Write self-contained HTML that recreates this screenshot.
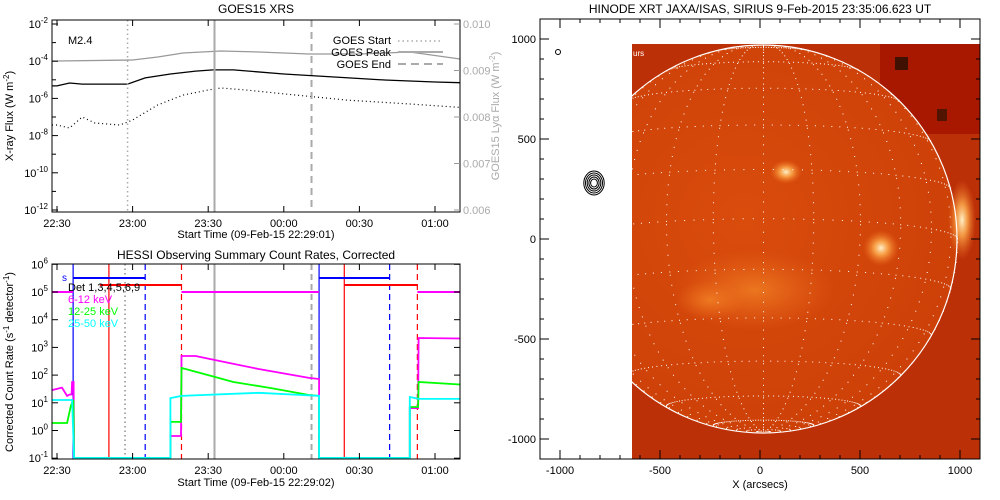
<!DOCTYPE html>
<html><head><meta charset="utf-8"><style>
html,body{margin:0;padding:0;background:#fff;width:1000px;height:500px;overflow:hidden;}
svg{display:block;font-family:"Liberation Sans",sans-serif;}
</style></head><body>
<svg id="chart" width="1000" height="500" viewBox="0 0 1000 500" xmlns="http://www.w3.org/2000/svg">
<defs>
<clipPath id="cpTop"><rect x="52" y="20" width="408" height="192"/></clipPath>
<clipPath id="cpBot"><rect x="52" y="264" width="408" height="195"/></clipPath>
<clipPath id="cpImg"><rect x="632" y="44" width="348" height="415"/></clipPath>
<radialGradient id="gDisk" cx="0.45" cy="0.45" r="0.6"><stop offset="0" stop-color="#d94c0c"/><stop offset="1" stop-color="#cc4008"/></radialGradient>
<radialGradient id="gBlob"><stop offset="0" stop-color="#fff0c8"/><stop offset="0.4" stop-color="#ffb050" stop-opacity="0.8"/><stop offset="1" stop-color="#f07020" stop-opacity="0"/></radialGradient>
<radialGradient id="gGlow"><stop offset="0" stop-color="#f58a28" stop-opacity="0.7"/><stop offset="1" stop-color="#f07020" stop-opacity="0"/></radialGradient>
</defs>

<g>
<text x="256" y="13" font-size="12" text-anchor="middle">GOES15 XRS</text>
<g id="topG" clip-path="url(#cpTop)"></g>
<rect x="52" y="20" width="408" height="192" fill="none" stroke="#000"/>
<g id="topAx"></g>
<text x="256" y="238" font-size="11" text-anchor="middle">Start Time (09-Feb-15 22:29:01)</text>
<text transform="translate(13,116) rotate(-90)" font-size="11" text-anchor="middle">X-ray Flux (W m<tspan dy="-4" font-size="8">-2</tspan><tspan dy="4">)</tspan></text>
<text transform="translate(499,116) rotate(-90)" font-size="11" fill="#aaa" text-anchor="middle">GOES15 Lyα Flux (W m<tspan dy="-4" font-size="8">-2</tspan><tspan dy="4">)</tspan></text>
<text x="68" y="44" font-size="11">M2.4</text>
<g>
<text x="391" y="44" font-size="11" text-anchor="end">GOES Start</text>
<line x1="398" y1="41" x2="443" y2="41" stroke="#aaa" stroke-width="1.5" stroke-dasharray="1.5,3"/>
<text x="391" y="56" font-size="11" text-anchor="end">GOES Peak</text>
<line x1="398" y1="52" x2="443" y2="52" stroke="#aaa" stroke-width="2"/>
<text x="391" y="68" font-size="11" text-anchor="end">GOES End</text>
<line x1="398" y1="64" x2="443" y2="64" stroke="#aaa" stroke-width="2" stroke-dasharray="8,5"/>
</g>
</g>

<g>
<text x="256" y="259" font-size="12" text-anchor="middle">HESSI Observing Summary Count Rates, Corrected</text>
<g id="botG" clip-path="url(#cpBot)"></g>
<rect x="52" y="264" width="408" height="195" fill="none" stroke="#000"/>
<g id="botAx"></g>
<text x="256" y="486" font-size="11" text-anchor="middle">Start Time (09-Feb-15 22:29:02)</text>
<text transform="translate(13,362) rotate(-90)" font-size="11" text-anchor="middle">Corrected Count Rate (s<tspan dy="-4" font-size="8">-1</tspan><tspan dy="4"> detector</tspan><tspan dy="-4" font-size="8">-1</tspan><tspan dy="4">)</tspan></text>
<text x="62" y="281" font-size="10" fill="#0000ff">s</text>
<text x="68" y="291" font-size="11">Det 1,3,4,5,6,9</text>
<text x="68" y="303" font-size="11" fill="#ff00ff">6-12 keV</text>
<text x="68" y="315" font-size="11" fill="#00ff00">12-25 keV</text>
<text x="68" y="327" font-size="11" fill="#00ffff">25-50 keV</text>
</g>

<g>
<text x="760" y="13" font-size="12" text-anchor="middle">HINODE XRT JAXA/ISAS, SIRIUS  9-Feb-2015 23:35:06.623 UT</text>
<g clip-path="url(#cpImg)">
<rect x="632" y="44" width="348" height="415" fill="#bc3008"/>
<rect x="880" y="44" width="100" height="90" fill="#a81800"/>
<circle cx="763" cy="239" r="194" fill="url(#gDisk)"/>
<ellipse cx="755" cy="290" rx="80" ry="40" fill="url(#gGlow)"/>
<ellipse cx="710" cy="300" rx="35" ry="20" fill="url(#gGlow)"/>
<ellipse cx="786" cy="172" rx="16" ry="12" fill="url(#gBlob)"/>
<ellipse cx="881" cy="248" rx="18" ry="18" fill="url(#gBlob)"/>
<ellipse cx="962" cy="220" rx="14" ry="40" fill="url(#gBlob)"/>
<rect x="895" y="57" width="13" height="13" fill="#401000"/>
<rect x="937" y="109" width="10" height="12" fill="#501400"/>
<g id="grid"></g>
<circle cx="763" cy="239" r="194" fill="none" stroke="#fff" stroke-width="1.2"/>
<text x="633" y="56" font-size="8" fill="#fff">urs</text>
</g>
<rect x="540" y="19" width="440" height="440" fill="none" stroke="#000"/>
<g id="rAx"></g>
<text x="760" y="488" font-size="11" text-anchor="middle">X (arcsecs)</text>
<circle cx="558" cy="52" r="2.5" fill="none" stroke="#000"/>
<g id="contours"></g>
</g>
</svg>
<script>
// ---------- DATA ----------
const goesTimeTicks = ["22:30","23:00","23:30","00:00","00:30","01:00"];
const goesTickMin = [0,30,60,90,120,150];
const fluxTickLabels = ["-2","-4","-6","-8","-10","-12"];
const fluxTickExp = [-2,-4,-6,-8,-10,-12];
const lyaTickLabels = ["0.010","0.009","0.008","0.007","0.006"];
const lyaTickVals = [0.010,0.009,0.008,0.007,0.006];
const longT = [-2,0,5,10,28,35,45,55,62,70,90,110,130,150,164];
const longLog = [-5.33,-5.33,-5.17,-5.23,-5.23,-4.90,-4.69,-4.53,-4.47,-4.47,-4.69,-4.85,-5.01,-5.12,-5.17];
const shortT = [-2,0,5,10,15,25,30,40,50,60,65,75,95,115,140,164];
const shortLog = [-7.43,-7.43,-7.59,-7.0,-7.32,-7.43,-7.16,-6.35,-5.82,-5.55,-5.44,-5.55,-5.82,-6.09,-6.30,-6.52];
const lyaT = [-2,0,30,40,50,65,80,100,120,140,160,164];
const lyaVal = [0.009204,0.009204,0.009226,0.00929,0.009376,0.00942,0.009398,0.009355,0.009355,0.009398,0.009247,0.009226];
const goesStart = 28, goesPeak = 62.5, goesEnd = 101;

const hessiExp = [6,5,4,3,2,1,0,-1];
const magT = [-2,2,4,5,5.8,6,6.6,6.8,45,45,49.2,49.4,55,65,80,100,104,104,140,140,143.3,143.5,160,164];
const magLog = [1.46,1.55,1.25,1.3,1.3,1.75,1.75,-1.1,-1.1,-0.2,-0.2,2.69,2.69,2.5,2.22,1.9,1.86,-1.1,-1.1,0.81,0.81,3.34,3.32,3.3];
const grnT = [-2,4,5.5,6.5,6.8,45,45,49.2,49.4,60,70,85,100,104,104,140,140,143.3,143.5,164];
const grnLog = [0.27,0.27,0.9,1.1,-1.1,-1.1,0.31,0.31,2.26,2.0,1.75,1.53,1.28,1.25,-1.1,-1.1,0.85,0.85,1.75,1.64];
const cyaT = [-2,6,6.8,45,45,49.4,80,104,104,140,140,143.5,164];
const cyaLog = [1.1,1.1,-1.1,-1.1,1.17,1.25,1.36,1.25,-1.1,-1.1,1.21,1.14,1.14];
const vLines = [
  {t:6.4,c:"#0000ff",d:""},{t:20.6,c:"#ff0000",d:""},{t:27,c:"#aaa",d:"1.5,3"},
  {t:35,c:"#0000ff",d:"6,4"},{t:49.4,c:"#ff0000",d:"6,4"},{t:62.5,c:"#aaa",d:""},
  {t:101,c:"#aaa",d:"6,4"},{t:104,c:"#0000ff",d:""},{t:114,c:"#ff0000",d:""},
  {t:132,c:"#0000ff",d:"6,4"},{t:143,c:"#ff0000",d:"6,4"}];
const blueBarStart=[6.4,104], blueBarEnd=[35,132];
const redBarStart=[17,114], redBarEnd=[49.4,143];
const magBarStart=[-2,49.4,143], magBarEnd=[6.4,104,170];

const arcTicks = [-1000,-500,0,500,1000];
const contourRx = [4,6,8,10,12];

// ---------- SCALES ----------
const NS="http://www.w3.org/2000/svg";
const xs = t => 57 + 2.52*t;
const yTop = l => 24 + (-2 - l)*18.6;
const yLya = v => 24 + (0.010 - v)*46500;
const yBot = l => 292 + (5 - l)*27.7;
const ax = a => 760 + a*0.2;
const ay = a => 239 - a*0.2;
function el(parent,tag,attrs){const e=document.createElementNS(NS,tag);for(const k in attrs)e.setAttribute(k,attrs[k]);parent.appendChild(e);return e;}
function poly(T,V,fx,fy){let p=[];for(let i=0;i<T.length;i++){p.push(fx(T[i]).toFixed(1)+","+fy(V[i]).toFixed(1));}return p.join(" ");}

// ---------- TOP ----------
const topG=document.getElementById('topG'), topAx=document.getElementById('topAx');
let l;
l=el(topG,'polyline',{points:poly(lyaT,lyaVal,xs,yLya),fill:"none",stroke:"#999",'stroke-width':1.3});


l=el(topG,'polyline',{points:poly(longT,longLog,xs,yTop),fill:"none",stroke:"#000",'stroke-width':1.3});


l=el(topG,'polyline',{points:poly(shortT,shortLog,xs,yTop),fill:"none",stroke:"#000",'stroke-width':1.2,'stroke-dasharray':"1,3"});


[[goesStart,"1.5,3",1.5,'goes-start-line'],[goesPeak,"",2,'goes-peak-line'],[goesEnd,"7,5",2,'goes-end-line']].forEach(v=>{
  const e=el(topG,'line',{x1:xs(v[0]),x2:xs(v[0]),y1:20,y2:212,stroke:"#aaa",'stroke-width':v[2],'stroke-dasharray':v[1]});
  
  
});
goesTickMin.forEach((m,i)=>{
  el(topAx,'line',{x1:xs(m),x2:xs(m),y1:212,y2:206,stroke:"#000"});
  el(topAx,'line',{x1:xs(m),x2:xs(m),y1:20,y2:26,stroke:"#000"});
  const t=el(topAx,'text',{x:xs(m),y:227,'font-size':11,'text-anchor':'middle'});t.textContent=goesTimeTicks[i];
  
  
});
for(let e=-2;e>=-12;e--){el(topAx,'line',{x1:52,x2:e%2?56:58,y1:yTop(e),y2:yTop(e),stroke:"#000"});}
fluxTickExp.forEach((e,i)=>{
  const t=el(topAx,'text',{x:48,y:yTop(e)+4,'font-size':11,'text-anchor':'end'});
  t.innerHTML='10<tspan dy="-5" font-size="8">'+fluxTickLabels[i]+'</tspan>';
  
  
});
lyaTickVals.forEach((v,i)=>{
  el(topAx,'line',{x1:460,x2:454,y1:yLya(v),y2:yLya(v),stroke:"#999"});
  const t=el(topAx,'text',{x:463,y:yLya(v)+4,'font-size':11,fill:'#aaa'});t.textContent=lyaTickLabels[i];
  
  
});

// ---------- BOTTOM ----------
const botG=document.getElementById('botG'), botAx=document.getElementById('botAx');
vLines.forEach(v=>{
  const e=el(botG,'line',{x1:xs(v.t),x2:xs(v.t),y1:264,y2:459,stroke:v.c,'stroke-width':v.c=="#aaa"?2:1.2,'stroke-dasharray':v.d});
  
  
});
function bars(S,E,yv,c,name){S.forEach((s,i)=>{
  const e=el(botG,'line',{x1:xs(s),x2:xs(E[i]),y1:yv,y2:yv,stroke:c,'stroke-width':2});
  
  
});}
bars(magBarStart,magBarEnd,292,"#ff00ff",'attenuator-state-bar');
bars(redBarStart,redBarEnd,285,"#ff0000",'saa-state-bar');
bars(blueBarStart,blueBarEnd,278,"#0000ff",'night-state-bar');
[[magT,magLog,"#ff00ff",'series-6-12-kev'],[grnT,grnLog,"#00ff00",'series-12-25-kev'],[cyaT,cyaLog,"#00ffff",'series-25-50-kev']].forEach(s=>{
  const e=el(botG,'polyline',{points:poly(s[0],s[1],xs,v=>Math.min(458,yBot(v))),fill:"none",stroke:s[2],'stroke-width':1.8});
  
  
});
goesTickMin.forEach((m,i)=>{
  el(botAx,'line',{x1:xs(m),x2:xs(m),y1:459,y2:453,stroke:"#000"});
  el(botAx,'line',{x1:xs(m),x2:xs(m),y1:264,y2:270,stroke:"#000"});
  const t=el(botAx,'text',{x:xs(m),y:474,'font-size':11,'text-anchor':'middle'});t.textContent=goesTimeTicks[i];
  
  
});
hessiExp.forEach(e=>{
  el(botAx,'line',{x1:52,x2:58,y1:yBot(e),y2:yBot(e),stroke:"#000"});
  el(botAx,'line',{x1:460,x2:454,y1:yBot(e),y2:yBot(e),stroke:"#000"});
  const t=el(botAx,'text',{x:48,y:yBot(e)+4,'font-size':11,'text-anchor':'end'});
  t.innerHTML='10<tspan dy="-5" font-size="8">'+e+'</tspan>';
  
  
});

// ---------- RIGHT ----------
const rAx=document.getElementById('rAx');
arcTicks.forEach(a=>{
  el(rAx,'line',{x1:ax(a),x2:ax(a),y1:459,y2:450,stroke:"#000"});
  el(rAx,'line',{x1:ax(a),x2:ax(a),y1:19,y2:28,stroke:"#000"});
  el(rAx,'line',{x1:540,x2:549,y1:ay(a),y2:ay(a),stroke:"#000"});
  el(rAx,'line',{x1:980,x2:971,y1:ay(a),y2:ay(a),stroke:"#000"});
  let t=el(rAx,'text',{x:ax(a),y:474,'font-size':11,'text-anchor':'middle'});t.textContent=a;
  
  
  t=el(rAx,'text',{x:536,y:ay(a)+4,'font-size':11,'text-anchor':'end'});t.textContent=a;
  
  
});
for(let a=-1000;a<=1000;a+=100){
  el(rAx,'line',{x1:ax(a),x2:ax(a),y1:459,y2:455,stroke:"#000"});
  el(rAx,'line',{x1:540,x2:544,y1:ay(a),y2:ay(a),stroke:"#000"});
  el(rAx,'line',{x1:980,x2:976,y1:ay(a),y2:ay(a),stroke:"#000"});
  el(rAx,'line',{x1:ax(a),x2:ax(a),y1:19,y2:23,stroke:"#000"});
}
const grid=document.getElementById('grid');
const R=194,cx=763,cy=239,B0=-6*Math.PI/180;
let dots="";
function pt(lat,lon){const la=lat*Math.PI/180,lo=lon*Math.PI/180;
  const x=Math.cos(la)*Math.sin(lo);const y0=Math.sin(la),z0=Math.cos(la)*Math.cos(lo);
  const y=y0*Math.cos(B0)-z0*Math.sin(B0);const z=y0*Math.sin(B0)+z0*Math.cos(B0);
  if(z<0)return null;return [cx+R*x,cy-R*y];}
for(let lat=-75;lat<=75;lat+=15){for(let lon=-90;lon<=90;lon+=3){const p=pt(lat,lon);if(p)dots+="M"+p[0].toFixed(1)+" "+p[1].toFixed(1)+"h1";}}
for(let lon=-90;lon<=90;lon+=15){for(let lat=-88;lat<=88;lat+=3){const p=pt(lat,lon);if(p)dots+="M"+p[0].toFixed(1)+" "+p[1].toFixed(1)+"h1";}}
const gp=el(grid,'path',{d:dots,stroke:"#fff",'stroke-width':1,fill:"none"});


const cg=document.getElementById('contours');
contourRx.forEach(r=>{
  const e=el(cg,'ellipse',{cx:ax(-830),cy:ay(280),rx:r*0.85,ry:r,fill:"none",stroke:"#000",'stroke-width':1});
  
  
});
</script>
</body></html>
